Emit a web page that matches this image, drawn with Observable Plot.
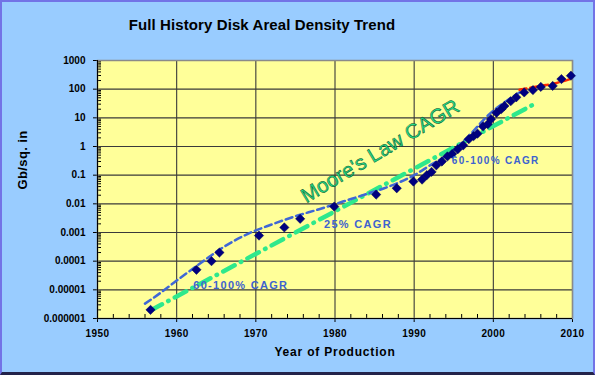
<!DOCTYPE html>
<html><head><meta charset="utf-8">
<script src="https://cdn.jsdelivr.net/npm/d3@7"></script>
<script src="https://cdn.jsdelivr.net/npm/@observablehq/plot@0.6"></script>
<style>
html,body{margin:0;padding:0;background:#99ccff;}
#chart{position:relative;width:595px;height:375px;box-sizing:border-box;background:#99ccff;border:2px solid #7373e6;border-bottom:3px solid #23234a;overflow:hidden;font-family:Arial,"Liberation Sans",sans-serif;}
#title{box-sizing:border-box;height:40px;width:520px;padding-top:15px;text-align:center;font-weight:bold;font-size:15px;line-height:15px;letter-spacing:0.1px;color:#000;}
#chart svg{display:block;}
</style>
</head><body>
<div id="chart"><div id="title">Full History Disk Areal Density Trend</div></div>
<script>
// ---- data ----
const xLabel = "Year of Production";
const yLabel = "Gb/sq. in";

const xTicks = [1950, 1960, 1970, 1980, 1990, 2000, 2010];
const xMinorTicks = [1952,1954,1956,1958,1962,1964,1966,1968,1972,1974,1976,1978,1982,1984,1986,1988,1992,1994,1996,1998,2002,2004,2006,2008];
const yTicks = [1e-6, 1e-5, 1e-4, 1e-3, 1e-2, 1e-1, 1, 10, 100, 1000];
const yTickLabels = ["0.000001","0.00001","0.0001","0.001","0.01","0.1","1","10","100","1000"];

// product areal density points
const pointYears = [1956.7, 1962.5, 1964.4, 1965.4, 1970.4, 1973.6, 1975.6, 1979.9, 1985.2, 1987.8, 1989.9,
  1991.0, 1991.6, 1992.2, 1992.8, 1993.5, 1994.2, 1994.8, 1995.5, 1996.2, 1996.9, 1997.5, 1998.0, 1998.7,
  1999.3, 1999.7, 2000.4, 2001.0, 2001.4, 2002.2, 2002.9, 2003.9, 2005.0, 2006.0, 2007.5, 2008.6, 2009.8];
const pointValues = [2e-6, 5e-5, 1e-4, 2e-4, 7.8e-4, 1.5e-3, 3e-3, 8e-3, 0.021, 0.035, 0.06,
  0.07, 0.1, 0.13, 0.22, 0.3, 0.45, 0.55, 0.8, 1.1, 1.8, 2.3, 2.8, 5,
  6, 9, 15, 20, 26, 38, 52, 77, 93, 120, 130, 225, 295];

// blue dashed trend (fitted curve)
const blueYears = [1956, 1958, 1960, 1963, 1966, 1969, 1972, 1975, 1978, 1981, 1984, 1987, 1990, 1992, 1994.7, 1997, 1999.5, 2002, 2004];
const blueValues = [3.3e-6, 8e-6, 2.1e-5, 8.5e-5, 3.2e-4, 9e-4, 1.9e-3, 3.7e-3, 6.5e-3, 0.012, 0.022, 0.042, 0.1, 0.22, 0.63, 2.5, 13.5, 45, 100];

// red dashed trend (recent)
const redYears = [2003.3, 2006, 2008, 2009.6];
const redValues = [95, 130, 165, 220];

// green Moore's law line
const greenYears = [1956.7, 2005.6];
const greenValues = [1.9e-6, 35];

// annotations
const noteTexts = ["60-100% CAGR", "25% CAGR", "60-100% CAGR"];
const noteYears = [1968.1, 1982.9, 2000.3];
const noteValues = [1.38e-5, 1.94e-3, 0.32];
const noteSizes = [11, 11, 10];
const mooreText = "Moore's Law CAGR";
const mooreYear = 1985.7;
const mooreValue = 0.68;

// ---- build tables ----
const points = pointYears.map((x, i) => ({x, y: pointValues[i]}));
const blue = blueYears.map((x, i) => ({x, y: blueValues[i]}));
const red = redYears.map((x, i) => ({x, y: redValues[i]}));
const green = greenYears.map((x, i) => ({x, y: greenValues[i]}));
const notes = noteTexts.map((t, i) => ({t, x: noteYears[i], y: noteValues[i], s: noteSizes[i]}));

const W = 591, H = 330, mL = 95, mR = 21, mT = 18, mB = 54;
const plotW = W - mL - mR, plotH = H - mT - mB;

const chart = Plot.plot({
  width: W, height: H,
  marginLeft: mL, marginRight: mR, marginTop: mT, marginBottom: mB,
  style: {background: "transparent", fontFamily: "Arial, 'Liberation Sans', sans-serif", fontSize: "10px", fontWeight: "bold", color: "#000", overflow: "visible"},
  x: {domain: [1950, 2010], ticks: xTicks, tickFormat: d => String(d), tickSize: 4, tickPadding: 7, label: null},
  y: {type: "log", domain: [1e-6, 1000], ticks: yTicks, tickFormat: d => yTickLabels[yTicks.indexOf(d)], tickSize: 4, tickPadding: 8, label: null},
  marks: [
    Plot.frame({fill: "#ffff99", stroke: null}),
    Plot.ruleX(xTicks, {stroke: "#3a3a3a", strokeWidth: 1.1}),
    Plot.ruleY(yTicks, {stroke: "#3a3a3a", strokeWidth: 1.1}),
    Plot.ruleY(yTicks.slice(0, -1).flatMap(v => [2,3,4,5,6,7,8,9].map(k => v * k)), {stroke: "#000", strokeWidth: 1, insetRight: plotW - 4}),
    Plot.ruleX(xMinorTicks, {stroke: "#000", strokeWidth: 1, insetTop: plotH - 4}),
    Plot.frame({stroke: "#8a8a8a", strokeWidth: 1.5}),
    Plot.ruleX([1950], {stroke: "#000", strokeWidth: 1}),
    Plot.ruleY([1e-6], {stroke: "#000", strokeWidth: 1}),
    Plot.line(green, {x: "x", y: "y", stroke: "#2ee88c", strokeWidth: 4.5, strokeDasharray: "13,7,0.5,7", strokeLinecap: "round"}),
    Plot.line(blue, {x: "x", y: "y", stroke: "#3f67d6", strokeWidth: 2.5, strokeDasharray: "7,4", curve: "monotone-x"}),
    Plot.line(red, {x: "x", y: "y", stroke: "#ff2a00", strokeWidth: 2.5, strokeDasharray: "7,4", curve: "monotone-x"}),
    Plot.dot(points, {x: "x", y: "y", symbol: "diamond2", r: 4.2, fill: "#00007f", stroke: "#00005a", strokeWidth: 0.5}),
    Plot.text(notes, {x: "x", y: "y", text: "t", fontSize: d => d.s, fill: "#3d63cf", fontWeight: "bold"}),
    Plot.text([mooreText], {x: () => mooreYear, y: () => mooreValue, text: d => d, rotate: -31, fontSize: 20.5, fontWeight: "normal", fill: "#22e08a", stroke: "#0a4d28", strokeWidth: 0.5}),
    Plot.text([xLabel], {frameAnchor: "bottom", dy: 37.5, text: d => d, fontSize: 12, fontWeight: "bold", fill: "#000"}),
    Plot.text([yLabel], {frameAnchor: "left", dx: -75, rotate: -90, text: d => d, fontSize: 13, fontWeight: "bold", fill: "#000"})
  ]
});
document.getElementById("chart").appendChild(chart);

const allText = d3.select(chart).selectAll("text");
const byContent = (s) => allText.filter(function () { return this.textContent === s; });
noteTexts.forEach(t => byContent(t).style("letter-spacing", "1.3px"));
byContent(mooreText).style("paint-order", "fill").attr("paint-order", "fill");
d3.select(chart).selectAll("g").filter(function () { return d3.select(this).selectAll("text").nodes().some(n => n.textContent === mooreText); }).attr("paint-order", "fill").style("paint-order", "fill");
byContent(xLabel).style("letter-spacing", "0.8px");
byContent(yLabel).style("letter-spacing", "0.4px");
xTicks.forEach(t => byContent(String(t)).style("letter-spacing", "0.4px"));
</script>
</body></html>
